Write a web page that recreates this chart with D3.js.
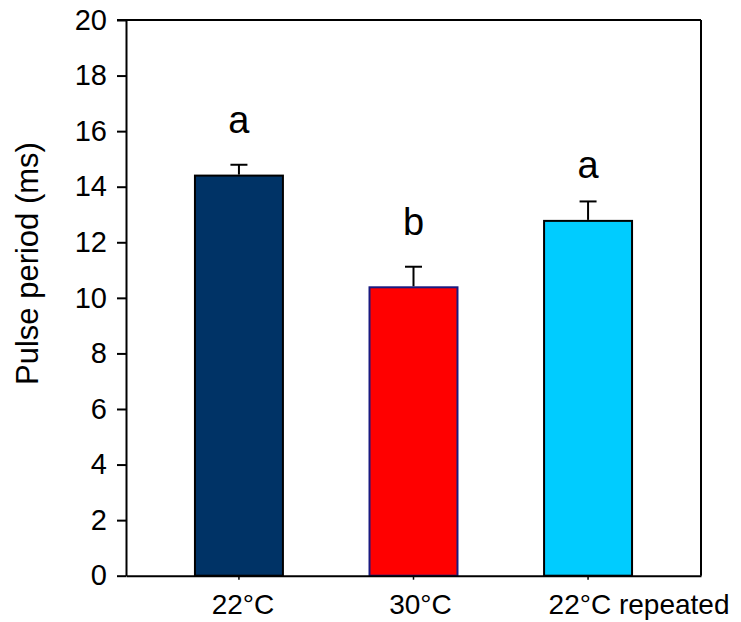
<!DOCTYPE html>
<html>
<head>
<meta charset="utf-8">
<script src="https://cdn.jsdelivr.net/npm/d3@7"></script>
<style>
  html, body { margin: 0; padding: 0; background: #fff; }
  svg { display: block; font-family: "Liberation Sans", Arial, sans-serif; }
</style>
</head>
<body>
<svg id="chart" width="741" height="622"></svg>
<script>
// Pulse period per temperature treatment
const conditions = ["22°C", "30°C", "22°C repeated"];
const meanPeriod = [14.4, 10.38, 12.77];
const periodSE = [0.39, 0.74, 0.7];
const groupLetters = ["a", "b", "a"];
const letterLevels = [15.95, 12.25, 14.3];
const yTicks = [0, 2, 4, 6, 8, 10, 12, 14, 16, 18, 20];

const fills = ["#003366", "#ff0000", "#00ccff"];
const strokes = ["#000000", "#1a1a80", "#000000"];
// horizontal nudge for the category labels (px)
const labelShift = [4, 7, 51];

const margin = { top: 20, right: 40, bottom: 46.3, left: 126 };
const width = 741, height = 622;
const innerW = width - margin.left - margin.right;
const innerH = height - margin.top - margin.bottom;

const svg = d3.select("#chart");
const g = svg.append("g").attr("transform", `translate(${margin.left},${margin.top})`);

const x = d3.scaleBand()
  .domain(conditions)
  .range([0, innerW])
  .paddingInner(0.496)
  .paddingOuter(0.395);

const y = d3.scaleLinear().domain([0, 20]).range([innerH, 0]);

// bars
g.selectAll("rect.bar")
  .data(conditions)
  .join("rect")
  .attr("class", "bar")
  .attr("x", d => x(d))
  .attr("width", x.bandwidth())
  .attr("y", (d, i) => y(meanPeriod[i]))
  .attr("height", (d, i) => y(0) - y(meanPeriod[i]))
  .attr("fill", (d, i) => fills[i])
  .attr("stroke", (d, i) => strokes[i])
  .attr("stroke-width", 2);

// upward error bars
const capHalf = 8.5;
conditions.forEach((c, i) => {
  const cx = x(c) + x.bandwidth() / 2;
  const top = y(meanPeriod[i] + periodSE[i]);
  g.append("line")
    .attr("x1", cx).attr("x2", cx)
    .attr("y1", y(meanPeriod[i]) - 1).attr("y2", top)
    .attr("stroke", "#000").attr("stroke-width", 2);
  g.append("line")
    .attr("x1", cx - capHalf).attr("x2", cx + capHalf)
    .attr("y1", top).attr("y2", top)
    .attr("stroke", "#000").attr("stroke-width", 2);
});

// significance letters
g.selectAll("text.letter")
  .data(groupLetters)
  .join("text")
  .attr("class", "letter")
  .attr("x", (d, i) => x(conditions[i]) + x.bandwidth() / 2)
  .attr("y", (d, i) => y(letterLevels[i]))
  .attr("text-anchor", "middle")
  .attr("font-size", 38)
  .attr("fill", "#000")
  .text(d => d);

// y axis
const yAxis = g.append("g")
  .call(d3.axisLeft(y).tickValues(yTicks).tickSize(9).tickSizeOuter(0).tickPadding(10));
yAxis.select(".domain").attr("stroke-width", 2);
yAxis.selectAll(".tick line").attr("stroke-width", 2);
yAxis.selectAll(".tick text").attr("font-size", 29).attr("fill", "#000")
  .attr("font-family", "'Liberation Sans', Arial, sans-serif");

// x axis
const xAxis = g.append("g")
  .attr("transform", `translate(0,${innerH})`)
  .call(d3.axisBottom(x).tickSize(4).tickSizeOuter(0).tickPadding(14));
xAxis.select(".domain").attr("stroke-width", 2);
xAxis.selectAll(".tick line").attr("stroke-width", 1.5);
xAxis.selectAll(".tick text")
  .attr("font-size", 28).attr("fill", "#000")
  .attr("font-family", "'Liberation Sans', Arial, sans-serif")
  .attr("dx", (d, i) => labelShift[i]);

// frame: top and right edges
g.append("line").attr("x1", 0).attr("x2", innerW).attr("y1", 0).attr("y2", 0)
  .attr("stroke", "#000").attr("stroke-width", 2);
g.append("line").attr("x1", innerW).attr("x2", innerW).attr("y1", 0).attr("y2", innerH)
  .attr("stroke", "#000").attr("stroke-width", 2);
g.append("line").attr("x1", -9).attr("x2", 0).attr("y1", 0).attr("y2", 0)
  .attr("stroke", "#000").attr("stroke-width", 2);

// y axis title
svg.append("text")
  .attr("transform", "translate(37.5,385) rotate(-90)")
  .attr("text-anchor", "start")
  .attr("font-size", 31)
  .attr("fill", "#000")
  .text("Pulse period (ms)");
</script>
</body>
</html>
